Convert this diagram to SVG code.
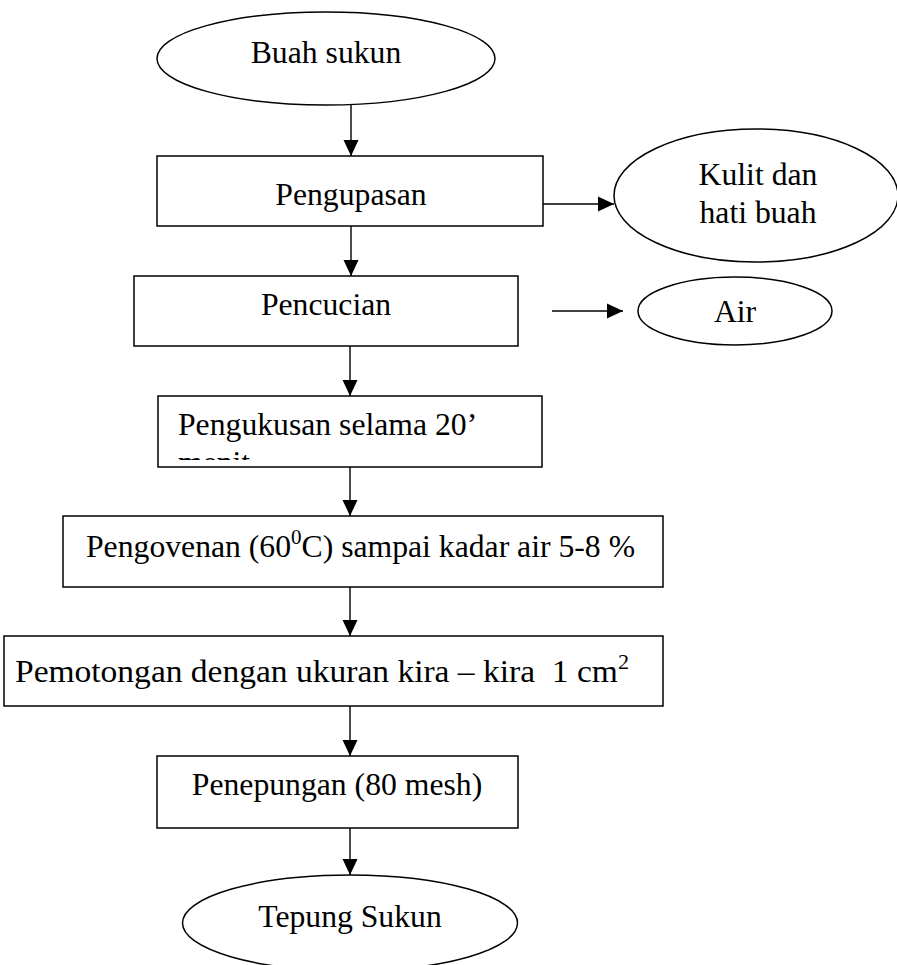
<svg xmlns="http://www.w3.org/2000/svg" width="897" height="965" viewBox="0 0 897 965">
<style>
.box{fill:#fff;stroke:#000;stroke-width:1.5}
.ell{fill:#fff;stroke:#000;stroke-width:1.5}
.t{font-family:"Liberation Serif","Times New Roman",serif;font-size:31.7px;fill:#000}
.c{text-anchor:middle}
.ln{stroke:#000;stroke-width:1.4;fill:none;marker-end:url(#ah)}
</style>
<defs>
<marker id="ah" markerUnits="userSpaceOnUse" markerWidth="16" markerHeight="16" viewBox="0 0 16 16" refX="16" refY="8" orient="auto">
<path d="M0,0.5 L16,8 L0,15.5 Z" fill="#000"/>
</marker>
<clipPath id="clipMenit"><rect x="150" y="440" width="200" height="20"/></clipPath>
</defs>
<rect width="897" height="965" fill="#fff"/>
<g id="connectors">
<line class="ln" x1="351" y1="105" x2="351" y2="156"/>
<line class="ln" x1="351" y1="226" x2="351" y2="276"/>
<line class="ln" x1="350" y1="346" x2="350" y2="396"/>
<line class="ln" x1="350" y1="467" x2="350" y2="516"/>
<line class="ln" x1="350" y1="587" x2="350" y2="636"/>
<line class="ln" x1="350" y1="706" x2="350" y2="756"/>
<line class="ln" x1="350" y1="828" x2="350" y2="875"/>
<line class="ln" x1="543" y1="204" x2="614" y2="204"/>
<line class="ln" x1="552" y1="311" x2="623" y2="311"/>
</g>
<g id="buah-sukun">
<ellipse class="ell" cx="326" cy="58.5" rx="169" ry="46.5"/>
<text class="t c" x="326" y="63">Buah sukun</text>
</g>
<g id="pengupasan">
<rect class="box" x="157" y="156" width="386" height="70"/>
<text class="t c" x="351" y="205">Pengupasan</text>
</g>
<g id="kulit">
<ellipse class="ell" cx="756" cy="195.5" rx="142" ry="66.5"/>
<text class="t c" x="758" y="185">Kulit dan</text>
<text class="t c" x="758" y="223">hati buah</text>
</g>
<g id="pencucian">
<rect class="box" x="134" y="276" width="384" height="70"/>
<text class="t c" x="326" y="315">Pencucian</text>
</g>
<g id="air">
<ellipse class="ell" cx="735" cy="311" rx="97" ry="34"/>
<text class="t c" x="735" y="322">Air</text>
</g>
<g id="pengukusan">
<rect class="box" x="158" y="396" width="384" height="71"/>
<text class="t" x="178" y="435">Pengukusan selama 20’</text>
<text class="t" x="178" y="472.5" clip-path="url(#clipMenit)">menit</text>
</g>
<g id="pengovenan">
<rect class="box" x="63" y="516" width="600" height="71"/>
<text class="t" x="86" y="557">Pengovenan (60<tspan font-size="21" dy="-13">0</tspan><tspan dy="13">C) sampai kadar air 5-8 %</tspan></text>
</g>
<g id="pemotongan">
<rect class="box" x="4" y="636" width="659" height="70"/>
<text class="t" x="15" y="682" xml:space="preserve" textLength="614" lengthAdjust="spacingAndGlyphs">Pemotongan dengan ukuran kira – kira  1 cm<tspan font-size="21" dy="-13">2</tspan></text>
</g>
<g id="penepungan">
<rect class="box" x="157" y="756" width="361" height="72"/>
<text class="t c" x="337" y="795">Penepungan (80 mesh)</text>
</g>
<g id="tepung-sukun">
<ellipse class="ell" cx="350" cy="923" rx="167.5" ry="48"/>
<text class="t c" x="350" y="927">Tepung Sukun</text>
</g>
</svg>
